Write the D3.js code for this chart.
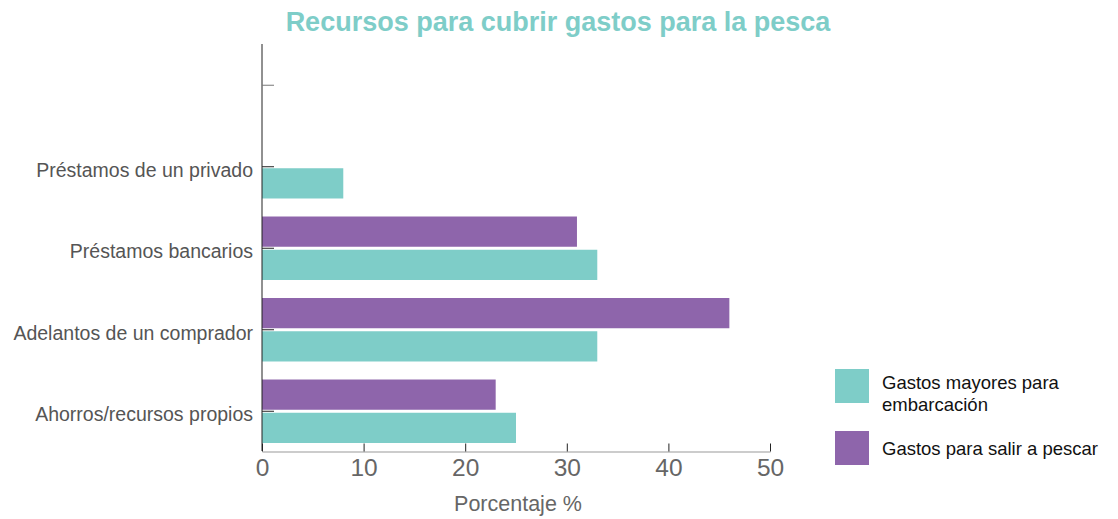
<!DOCTYPE html>
<html>
<head>
<meta charset="utf-8">
<script src="https://cdn.jsdelivr.net/npm/d3@7"></script>
<style>
  body { margin: 0; background: #fff; }
  svg { font-family: "Liberation Sans", Arial, Helvetica, sans-serif; }
</style>
</head>
<body>
<div class="chart"></div>
<script>
// data (top row is an empty category)
const categories = ["", "Préstamos de un privado", "Préstamos bancarios", "Adelantos de un comprador", "Ahorros/recursos propios"];
const mayores = [null, 8, 33, 33, 25];   // Gastos mayores para embarcación
const salir = [null, null, 31, 46, 23];  // Gastos para salir a pescar
const xTicks = [0, 10, 20, 30, 40, 50];

const teal = "#7ecdc8";
const purple = "#8e65ab";

const svgWidth = 1118;
const svgHeight = 519;
const svg = d3.select(".chart").append("svg")
  .attr("width", svgWidth)
  .attr("height", svgHeight);

const margin = { left: 262, right: 348, top: 53.5, bottom: 76 };
const innerWidth = svgWidth - margin.left - margin.right;
const bandBottom = 443;

const xScale = d3.scaleLinear().domain([0, 50]).range([margin.left, margin.left + innerWidth]);
const yScale = d3.scaleBand()
  .domain(categories)
  .range([margin.top, bandBottom])
  .paddingInner(0.221)
  .paddingOuter(0);
const barH = (yScale.bandwidth() - 3) / 2;

// title
svg.append("text")
  .attr("x", 558)
  .attr("y", 31)
  .attr("text-anchor", "middle")
  .attr("font-size", 27)
  .attr("font-weight", "bold")
  .attr("fill", teal)
  .text("Recursos para cubrir gastos para la pesca");

// bars
const rows = categories.map((c, i) => ({ c, a: mayores[i], b: salir[i] }));
svg.append("g").selectAll("rect.b")
  .data(rows.filter((d) => d.b != null))
  .enter().append("rect")
  .attr("x", xScale(0))
  .attr("y", (d) => yScale(d.c))
  .attr("width", (d) => xScale(d.b) - xScale(0))
  .attr("height", barH)
  .attr("fill", purple);
svg.append("g").selectAll("rect.a")
  .data(rows.filter((d) => d.a != null))
  .enter().append("rect")
  .attr("x", xScale(0))
  .attr("y", (d) => yScale(d.c) + barH + 3)
  .attr("width", (d) => xScale(d.a) - xScale(0))
  .attr("height", barH)
  .attr("fill", teal);

// y axis
const yAxisG = svg.append("g").attr("transform", `translate(${margin.left},0)`);
yAxisG.append("line")
  .attr("x1", 0).attr("x2", 0)
  .attr("y1", 44).attr("y2", 451)
  .attr("stroke", "#222").attr("stroke-width", 1);
const yTick = yAxisG.selectAll("g.tick")
  .data(categories)
  .enter().append("g")
  .attr("transform", (d) => `translate(0,${yScale(d) + yScale.bandwidth() / 2})`);
yTick.append("line")
  .attr("x1", 0).attr("x2", 12)
  .attr("stroke", (d, i) => (i === 0 ? "#777" : "#222"))
  .attr("stroke-width", 1);
yTick.append("text")
  .attr("x", -9)
  .attr("y", 3)
  .attr("dy", "0.35em")
  .attr("text-anchor", "end")
  .attr("font-size", 19.5)
  .attr("fill", "#555")
  .text((d) => d);

// x axis
const xAxisG = svg.append("g")
  .attr("transform", "translate(0,451.5)")
  .call(d3.axisBottom(xScale).tickValues(xTicks).tickSizeInner(-8).tickSizeOuter(0).tickPadding(7));
xAxisG.select(".domain").attr("stroke", "#999");
xAxisG.selectAll(".tick line").attr("stroke", "#222");
xAxisG.selectAll(".tick text")
  .attr("font-size", 24.5)
  .attr("fill", "#666")
  .attr("font-family", "'Liberation Sans', Arial, sans-serif");

svg.append("text")
  .attr("x", (xScale(0) + xScale(50)) / 2 + 2)
  .attr("y", 511)
  .attr("text-anchor", "middle")
  .attr("font-size", 21.5)
  .attr("fill", "#666")
  .text("Porcentaje %");

// legend
const legend = svg.append("g").attr("transform", "translate(835,369)");
const legendItems = [
  { color: teal, lines: ["Gastos mayores para", "embarcación"] },
  { color: purple, lines: ["Gastos para salir a pescar"] },
];
legendItems.forEach((item, i) => {
  const g = legend.append("g").attr("transform", `translate(0,${i * 62})`);
  g.append("rect").attr("width", 34).attr("height", 34).attr("fill", item.color);
  const t = g.append("text")
    .attr("x", 47)
    .attr("font-size", 18.5)
    .attr("fill", "#111");
  item.lines.forEach((l, j) => {
    t.append("tspan")
      .attr("x", 47)
      .attr("y", item.lines.length === 1 ? 24 : 20 + j * 22)
      .text(l);
  });
});
</script>
</body>
</html>
